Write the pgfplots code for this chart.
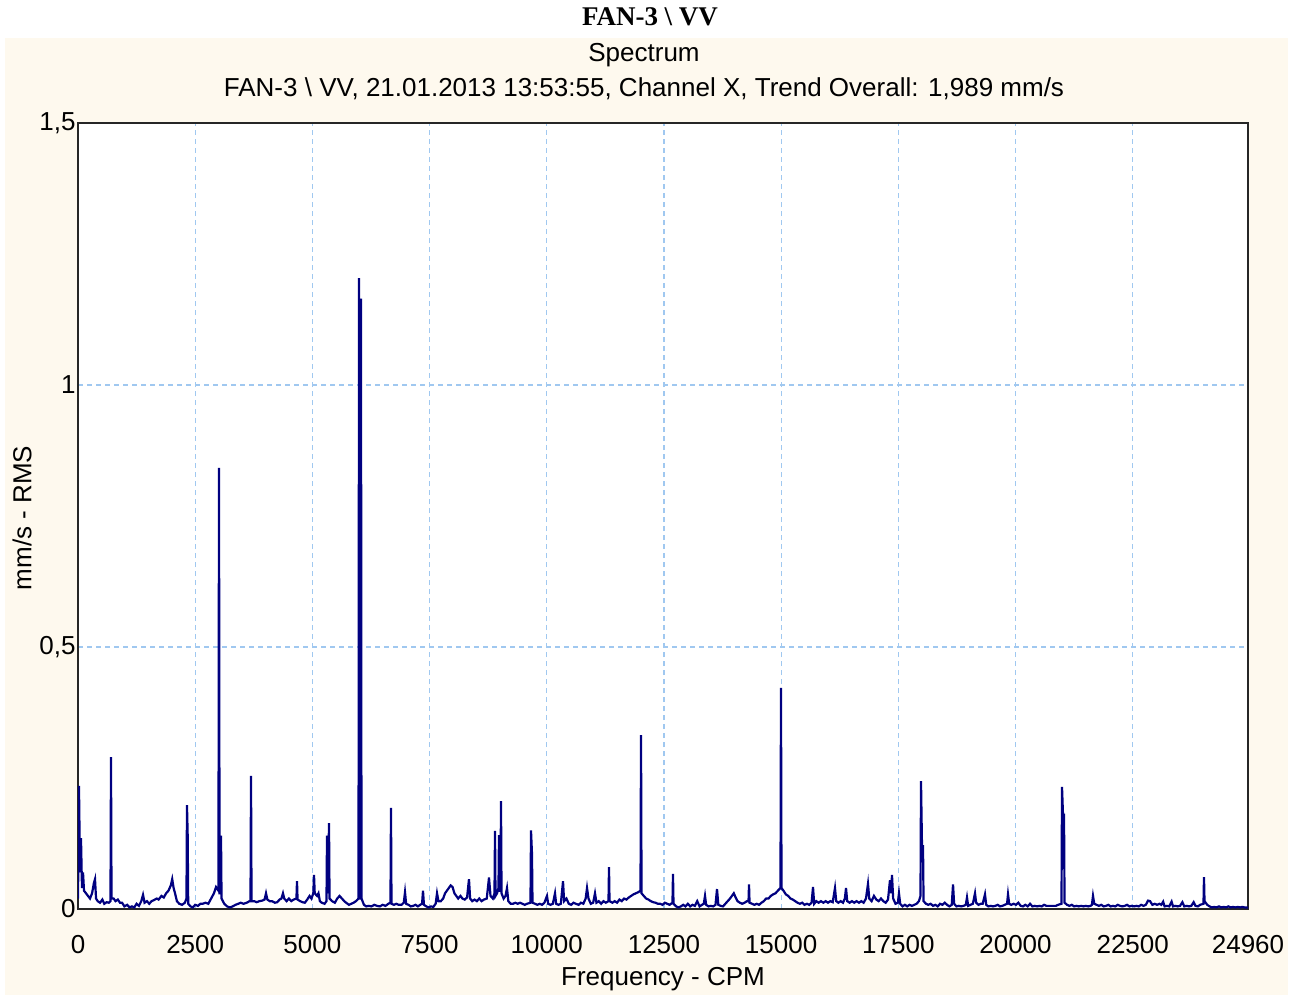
\documentclass[border=0pt]{standalone}
\usepackage{pgfplots}
\pgfplotsset{compat=1.18}
\usepackage{fontspec}
\setmainfont{Liberation Sans}
\newfontfamily\titleserif{Liberation Serif}
\definecolor{panel}{RGB}{254,249,238}
\definecolor{gridblue}{RGB}{160,200,240}
\definecolor{navyline}{RGB}{0,0,128}
\begin{document}
\begin{tikzpicture}
\path[use as bounding box] (0pt,0pt) rectangle (650pt,499pt);
\fill[white] (0pt,0pt) rectangle (650pt,499pt);
\fill[panel] (2.5pt,1.5pt) rectangle (644pt,480pt);
\node[font=\titleserif\bfseries\fontsize{13.5}{15}\selectfont] at (325pt,490.5pt) {FAN-3 \textbackslash{} VV};
\node[font=\fontsize{13}{15}\selectfont] at (322pt,471.5pt) {Spectrum};
\node[font=\fontsize{13}{15}\selectfont] at (322pt,454.5pt) {FAN-3 \textbackslash{} VV, 21.01.2013 13:53:55, Channel X, Trend Overall: 1,989 mm/s};
\node[font=\fontsize{13}{15}\selectfont] at (331.5pt,9.5pt) {Frequency - CPM};
\node[font=\fontsize{13}{15}\selectfont, rotate=90] at (11pt,240pt) {mm/s - RMS};
\begin{axis}[
  at={(39pt,44.5pt)}, anchor=south west,
  width=585pt, height=393pt, scale only axis,
  xmin=0, xmax=24960, ymin=0, ymax=1.5,
  scaled x ticks=false, scaled y ticks=false,
  xtick={0,2500,5000,7500,10000,12500,15000,17500,20000,22500,24960},
  xticklabels={0,2500,5000,7500,10000,12500,15000,17500,20000,22500,24960},
  ytick={0,0.5,1,1.5},
  yticklabels={{0},{0,5},{1},{1,5}},
  major tick length=0pt,
  tick label style={font=\fontsize{13}{15}\selectfont},
  xticklabel style={anchor=center, yshift=-18pt},
  yticklabel style={anchor=east, inner sep=1pt},
  xmajorgrids, ymajorgrids,
  major grid style={gridblue, line width=0.6pt, dash pattern=on 2.5pt off 2pt},
  axis line style={black!85, line width=1.1pt},
  axis background/.style={fill=white},
  clip=true,
]
\addplot[navyline, line width=1.1pt, line join=miter] coordinates {
(0,0.02)(21,0.235)(43,0.07)(64,0.135)(85,0.04)(107,0.07)(128,0.035)(170,0.03)(213,0.025)(256,0.02)(300,0.03)(340,0.05)(363,0.057)(385,0.02)(420,0.015)(470,0.012)(520,0.018)(560,0.01)(610,0.013)(660,0.012)(693,0.015)(704,0.29)(715,0.02)(760,0.02)(800,0.015)(850,0.018)(896,0.012)(940,0.012)(990,0.005)(1050,0.008)(1100,0.003)(1150,0.005)(1200,0.003)(1250,0.01)(1300,0.006)(1350,0.015)(1387,0.027)(1420,0.012)(1470,0.015)(1520,0.01)(1570,0.015)(1620,0.017)(1680,0.02)(1720,0.018)(1780,0.025)(1830,0.022)(1880,0.03)(1930,0.035)(1980,0.045)(2010,0.057)(2040,0.04)(2070,0.03)(2110,0.015)(2160,0.01)(2220,0.008)(2280,0.012)(2314,0.02)(2325,0.198)(2340,0.14)(2351,0.01)(2400,0.005)(2450,0.003)(2500,0.008)(2560,0.006)(2610,0.01)(2660,0.01)(2720,0.012)(2780,0.01)(2840,0.02)(2900,0.03)(2944,0.042)(2996,0.035)(3008,0.842)(3020,0.03)(3040,0.03)(3051,0.14)(3062,0.02)(3120,0.01)(3180,0.005)(3240,0.003)(3300,0.005)(3360,0.008)(3420,0.01)(3470,0.012)(3530,0.01)(3600,0.012)(3660,0.015)(3680,0.015)(3691,0.254)(3702,0.015)(3760,0.015)(3810,0.013)(3870,0.015)(3930,0.016)(3980,0.018)(4011,0.03)(4040,0.018)(4090,0.015)(4140,0.015)(4200,0.012)(4250,0.013)(4300,0.018)(4340,0.02)(4373,0.03)(4400,0.02)(4450,0.015)(4500,0.02)(4550,0.015)(4600,0.018)(4660,0.02)(4672,0.053)(4684,0.018)(4740,0.015)(4790,0.013)(4840,0.012)(4890,0.018)(4940,0.025)(4980,0.02)(5020,0.03)(5035,0.065)(5050,0.03)(5100,0.025)(5130,0.03)(5160,0.015)(5200,0.012)(5260,0.01)(5301,0.015)(5312,0.14)(5330,0.03)(5355,0.164)(5366,0.02)(5420,0.015)(5480,0.012)(5530,0.02)(5580,0.025)(5630,0.02)(5680,0.015)(5720,0.012)(5780,0.008)(5830,0.01)(5880,0.012)(5930,0.015)(5984,0.02)(5995,1.204)(6006,0.02)(6026,0.02)(6037,1.165)(6048,0.02)(6100,0.008)(6150,0.005)(6200,0.006)(6260,0.005)(6320,0.008)(6380,0.006)(6440,0.005)(6500,0.008)(6560,0.006)(6620,0.01)(6666,0.012)(6677,0.193)(6688,0.01)(6740,0.008)(6790,0.01)(6840,0.008)(6900,0.008)(6950,0.012)(6976,0.032)(7000,0.01)(7050,0.008)(7100,0.005)(7150,0.006)(7200,0.008)(7250,0.005)(7300,0.008)(7340,0.01)(7360,0.035)(7380,0.008)(7430,0.005)(7480,0.003)(7530,0.005)(7580,0.004)(7630,0.01)(7659,0.03)(7690,0.015)(7740,0.015)(7790,0.02)(7830,0.03)(7870,0.035)(7910,0.04)(7950,0.045)(7990,0.042)(8030,0.03)(8070,0.025)(8110,0.02)(8160,0.025)(8200,0.02)(8250,0.018)(8300,0.022)(8341,0.057)(8365,0.02)(8410,0.015)(8460,0.018)(8510,0.015)(8560,0.02)(8610,0.015)(8660,0.018)(8720,0.02)(8768,0.06)(8800,0.025)(8850,0.02)(8885,0.03)(8896,0.149)(8907,0.025)(8940,0.03)(8970,0.04)(8981,0.141)(9000,0.035)(9013,0.035)(9024,0.206)(9035,0.03)(9080,0.02)(9120,0.025)(9152,0.04)(9180,0.015)(9230,0.01)(9280,0.01)(9330,0.012)(9380,0.01)(9430,0.012)(9480,0.01)(9530,0.008)(9580,0.01)(9653,0.012)(9664,0.15)(9685,0.105)(9696,0.012)(9750,0.01)(9800,0.008)(9850,0.01)(9900,0.008)(9950,0.012)(10005,0.025)(10030,0.01)(10080,0.008)(10130,0.01)(10176,0.03)(10200,0.01)(10250,0.008)(10300,0.01)(10347,0.053)(10370,0.015)(10420,0.02)(10470,0.01)(10520,0.008)(10570,0.012)(10620,0.01)(10680,0.008)(10730,0.012)(10780,0.01)(10830,0.02)(10859,0.04)(10890,0.02)(10940,0.01)(10990,0.012)(11029,0.03)(11060,0.012)(11110,0.015)(11160,0.01)(11210,0.015)(11260,0.012)(11317,0.015)(11328,0.08)(11339,0.015)(11400,0.012)(11450,0.015)(11500,0.012)(11550,0.018)(11600,0.015)(11650,0.02)(11700,0.018)(11750,0.022)(11800,0.025)(11850,0.028)(11900,0.03)(11950,0.032)(12000,0.035)(12011,0.332)(12022,0.03)(12070,0.025)(12120,0.02)(12170,0.018)(12220,0.015)(12270,0.013)(12320,0.012)(12370,0.01)(12420,0.01)(12470,0.008)(12520,0.012)(12570,0.01)(12620,0.008)(12682,0.012)(12693,0.067)(12704,0.01)(12760,0.005)(12810,0.003)(12860,0.005)(12910,0.008)(12960,0.005)(13010,0.01)(13060,0.005)(13110,0.008)(13160,0.006)(13210,0.015)(13260,0.005)(13310,0.008)(13350,0.01)(13376,0.025)(13400,0.008)(13450,0.005)(13500,0.006)(13550,0.005)(13600,0.008)(13632,0.038)(13660,0.008)(13710,0.006)(13760,0.005)(13810,0.01)(13860,0.015)(13910,0.02)(13950,0.025)(13990,0.03)(14030,0.022)(14070,0.015)(14120,0.012)(14170,0.01)(14220,0.012)(14270,0.015)(14304,0.015)(14315,0.047)(14326,0.012)(14380,0.01)(14430,0.008)(14480,0.01)(14530,0.008)(14580,0.012)(14630,0.015)(14680,0.02)(14730,0.02)(14780,0.025)(14830,0.028)(14880,0.03)(14930,0.035)(14986,0.04)(14997,0.422)(15008,0.04)(15050,0.035)(15100,0.028)(15150,0.025)(15200,0.02)(15250,0.018)(15300,0.015)(15350,0.012)(15400,0.01)(15450,0.012)(15500,0.008)(15550,0.01)(15600,0.008)(15650,0.012)(15680,0.042)(15705,0.01)(15750,0.015)(15800,0.012)(15850,0.015)(15900,0.012)(15950,0.015)(16000,0.012)(16050,0.015)(16100,0.013)(16149,0.04)(16175,0.015)(16220,0.012)(16270,0.015)(16320,0.012)(16360,0.02)(16384,0.04)(16410,0.015)(16460,0.012)(16510,0.015)(16560,0.012)(16610,0.015)(16660,0.012)(16710,0.015)(16760,0.012)(16810,0.02)(16853,0.048)(16880,0.02)(16930,0.015)(16980,0.025)(17030,0.018)(17080,0.015)(17130,0.02)(17180,0.015)(17230,0.012)(17280,0.018)(17322,0.055)(17345,0.03)(17365,0.065)(17390,0.02)(17440,0.01)(17490,0.012)(17514,0.03)(17540,0.01)(17590,0.005)(17640,0.008)(17690,0.005)(17740,0.008)(17790,0.006)(17840,0.008)(17890,0.01)(17940,0.015)(17973,0.025)(17984,0.244)(18005,0.12)(18027,0.12)(18038,0.015)(18090,0.01)(18140,0.008)(18190,0.01)(18240,0.006)(18290,0.008)(18340,0.005)(18390,0.01)(18440,0.008)(18490,0.012)(18540,0.008)(18590,0.005)(18640,0.008)(18667,0.047)(18690,0.01)(18740,0.005)(18790,0.006)(18840,0.005)(18890,0.006)(18940,0.008)(18965,0.022)(18990,0.006)(19040,0.008)(19090,0.01)(19136,0.03)(19160,0.012)(19210,0.008)(19260,0.01)(19300,0.01)(19349,0.028)(19375,0.008)(19420,0.005)(19470,0.006)(19520,0.005)(19570,0.006)(19620,0.008)(19670,0.005)(19720,0.006)(19770,0.008)(19820,0.01)(19840,0.028)(19865,0.01)(19910,0.008)(19960,0.01)(20010,0.008)(20060,0.012)(20110,0.006)(20160,0.005)(20210,0.008)(20260,0.005)(20310,0.01)(20360,0.005)(20410,0.006)(20460,0.005)(20510,0.006)(20560,0.005)(20610,0.008)(20660,0.006)(20710,0.006)(20760,0.006)(20810,0.006)(20860,0.006)(20910,0.008)(20981,0.01)(20992,0.233)(21013,0.18)(21035,0.18)(21046,0.012)(21100,0.008)(21150,0.006)(21200,0.008)(21250,0.005)(21300,0.006)(21350,0.005)(21400,0.006)(21450,0.005)(21500,0.006)(21550,0.005)(21600,0.006)(21630,0.008)(21653,0.025)(21680,0.01)(21730,0.008)(21780,0.006)(21830,0.008)(21880,0.005)(21930,0.006)(21980,0.008)(22030,0.005)(22080,0.006)(22130,0.005)(22180,0.008)(22230,0.006)(22280,0.005)(22330,0.006)(22380,0.008)(22430,0.005)(22480,0.006)(22530,0.005)(22580,0.006)(22630,0.005)(22680,0.008)(22730,0.006)(22780,0.008)(22827,0.016)(22870,0.015)(22920,0.008)(22970,0.01)(23020,0.008)(23070,0.01)(23110,0.008)(23150,0.014)(23180,0.005)(23230,0.006)(23280,0.005)(23330,0.014)(23360,0.005)(23410,0.006)(23460,0.005)(23510,0.006)(23560,0.013)(23600,0.005)(23650,0.006)(23700,0.005)(23750,0.006)(23800,0.013)(23840,0.006)(23890,0.005)(23940,0.008)(24010,0.01)(24021,0.061)(24032,0.015)(24090,0.008)(24140,0.005)(24190,0.003)(24240,0.004)(24290,0.003)(24340,0.005)(24390,0.003)(24440,0.004)(24490,0.003)(24540,0.005)(24590,0.003)(24640,0.004)(24690,0.003)(24740,0.004)(24790,0.003)(24840,0.004)(24890,0.003)(24960,0.003)
};
\end{axis}
\end{tikzpicture}
\end{document}
